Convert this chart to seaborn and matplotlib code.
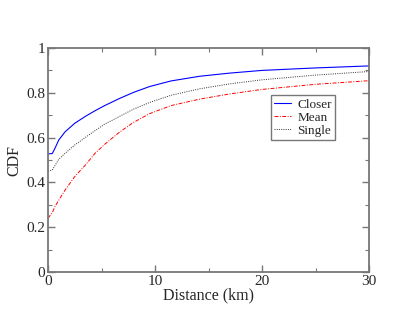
import numpy as np
import pandas as pd
import matplotlib
matplotlib.use("Agg")
import matplotlib.pyplot as plt
import seaborn as sns
from matplotlib.ticker import MultipleLocator

# --- data ---
distance = [0, 0.4, 0.65, 1.0, 1.6, 2.5, 3.5, 4.4, 5.3, 6.7, 8.0, 9.5, 11.5, 14.2, 17, 20, 25, 30]
closer = [0.527, 0.529, 0.552, 0.589, 0.626, 0.664, 0.695, 0.72, 0.743, 0.775, 0.802, 0.828,
          0.853, 0.874, 0.888, 0.90, 0.911, 0.92]
mean = [0.24, 0.265, 0.292, 0.32, 0.366, 0.426, 0.478, 0.53, 0.57, 0.625, 0.668, 0.707,
        0.743, 0.772, 0.795, 0.815, 0.838, 0.854]
single = [0.451, 0.455, 0.475, 0.503, 0.53, 0.567, 0.601, 0.631, 0.66, 0.695, 0.727, 0.757,
          0.789, 0.818, 0.84, 0.858, 0.879, 0.895]

df = pd.DataFrame({
    "Distance": distance * 3,
    "CDF": closer + mean + single,
    "Series": ["Closer"] * len(distance) + ["Mean"] * len(distance) + ["Single"] * len(distance),
})

sns.set_style("ticks")
plt.rcParams["font.family"] = ["Liberation Serif", "DejaVu Serif"]

fig = plt.figure(figsize=(4.15, 3.21), dpi=100)
ax = fig.add_axes([48 / 415, 49 / 321, 321 / 415, 224 / 321])

styles = {
    "Closer": dict(color="#0000ff", linestyle="-", lw=0.8),
    "Mean": dict(color="#ff0000", linestyle=(0, (4, 1.5, 1, 1.5)), lw=0.7),
    "Single": dict(color="#333333", linestyle=(0, (1, 1.3)), lw=0.7),
}
for name, st in styles.items():
    sns.lineplot(data=df[df["Series"] == name], x="Distance", y="CDF",
                 ax=ax, label=name, **st)

ax.set_xlim(0, 30)
ax.set_ylim(0, 1)
ax.xaxis.set_major_locator(MultipleLocator(10))
ax.xaxis.set_minor_locator(MultipleLocator(5))
ax.yaxis.set_minor_locator(MultipleLocator(0.1))
ax.set_yticks([0, 0.2, 0.4, 0.6, 0.8, 1.0])
ax.set_yticklabels(["0", "0.2", "0.4", "0.6", "0.8", "1"])

ax.tick_params(which="both", direction="in", top=True, right=True,
               color="#777777", labelsize=11, pad=2)
ax.tick_params(which="major", length=5, width=1.0)
ax.tick_params(which="minor", length=3, width=0.8)
for sp in ax.spines.values():
    sp.set_color("#777777")
    sp.set_linewidth(1.3)

ax.set_xlabel("Distance (km)", fontsize=11.5, labelpad=0)
ax.set_ylabel("CDF", fontsize=11.5, labelpad=3)

leg = ax.legend(loc="upper left", bbox_to_anchor=(0.685, 0.80), fontsize=9.5,
                fancybox=False, shadow=False, framealpha=1, edgecolor="#777777",
                handlelength=1.3, handletextpad=0.5, borderpad=0.25, labelspacing=0.05,
                borderaxespad=0.2)
leg.get_frame().set_linewidth(1.0)

fig.savefig("out.png", dpi=100)
